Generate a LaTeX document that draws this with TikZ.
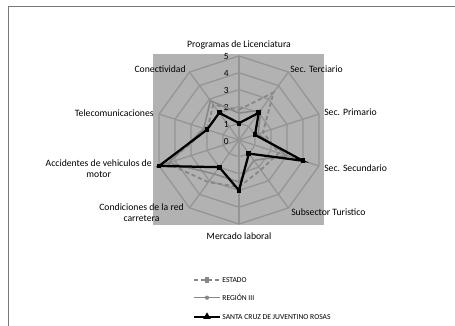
\documentclass[tikz,border=0pt]{standalone}
\usepackage{fontspec}
\setmainfont{Carlito}
\usetikzlibrary{positioning,plotmarks}
\definecolor{plotbg}{RGB}{178,178,178}
\definecolor{gridgray}{RGB}{148,148,148}
\definecolor{seriesgray}{RGB}{135,135,135}
\definecolor{framegray}{RGB}{120,120,120}

\begin{document}
\begin{tikzpicture}[x=0.025cm, y=0.025cm,
    gridline/.style={draw=gridgray, line width=0.9pt},
    catlabel/.style={font=\fontsize{6.9}{7.8}\selectfont, inner sep=0pt, align=center},
    axisnum/.style={font=\fontsize{6.7}{7}\selectfont, inner sep=0pt, anchor=east},
    estado/.style={draw=seriesgray, line width=1.3pt, dash pattern=on 3pt off 2pt},
    region/.style={draw=seriesgray, line width=1.1pt},
    santacruz/.style={draw=black, line width=1.6pt},
    legendtext/.style={font=\fontsize{5.4}{6}\selectfont, inner sep=0pt, anchor=west}
]
\useasboundingbox (0,0) rectangle (455,326);
\draw[framegray, line width=0.5pt] (8,-10) -- (8,320) -- (465,320);

% plot area
\fill[plotbg] (152.5,101) rectangle (324,272);

\begin{scope}[shift={(239,186)}, x=0.42cm, y=0.42cm]
% rings and spokes
\foreach \r in {1,...,5}
    \draw[gridline] (90:\r) \foreach \a in {54,18,...,-234} { -- (\a:\r) } -- cycle;
\foreach \a [count=\i] in {90,54,...,-234}
    \draw[gridline] (0,0) -- (\a:5) coordinate (ax\i);
\foreach \k in {0,...,5}
    \node[axisnum] (num\k) at (-0.6,\k-0.06) {\k};

% series
\draw[estado] (90:1.8) -- (54:3.5) -- (18:1.5) -- (-18:2.5) -- (-54:2.2) -- (-90:2.8)
    -- (-126:3.1) -- (-162:4.5) -- (162:2.0) -- (126:2.6) -- cycle;
\draw[region] (90:1.6) -- (54:2.2) -- (18:1.2) -- (-18:3.0) -- (-54:1.5) -- (-90:2.5)
    -- (-126:2.5) -- (-162:4.4) -- (162:2.2) -- (126:2.9) -- cycle;
\draw[santacruz] plot[mark=square*, mark size=0.9pt] coordinates {(90:1) (54:2) (18:1)
    (-18:4) (-54:1) (-90:3) (-126:2) (-162:5) (162:2) (126:2) (90:1)};
\end{scope}

% category labels
\node[catlabel] (prog) at (239,281) {Programas de Licenciatura};
\node[catlabel, anchor=west] (terc) at (290,256.7) {Sec. Terciario};
\node[catlabel, anchor=west] (prim) at (324,213.3) {Sec. Primario};
\node[catlabel, anchor=west] (secu) at (324,158.3) {Sec. Secundario};
\node[catlabel, anchor=west] (turi) at (291,113.7) {Subsector Turistico};
\node[catlabel] (merc) at (239,90.3) {Mercado laboral};
\node[catlabel] (cond) at (141.5,113) {Condiciones de la red\\carretera};
\node[catlabel] (acci) at (98.7,157.5) {Accidentes de vehiculos de\\motor};
\node[catlabel, anchor=east] (tele) at (154,213.3) {Telecomunicaciones};
\node[catlabel, anchor=east] (cone) at (186,256.7) {Conectividad};

% legend
\coordinate (ls1) at (194,45.7);  \coordinate (le1) at (220,45.7);
\coordinate (ls2) at (194,28.3);  \coordinate (le2) at (220,28.3);
\coordinate (ls3) at (194,9.3);   \coordinate (le3) at (220,9.3);
\draw[estado] (ls1) -- (le1) node[midway, solid, fill=seriesgray, minimum width=2.5pt, minimum height=4pt, inner sep=0pt] {};
\draw[region] (ls2) -- (le2) node[midway, fill=seriesgray, circle, minimum size=3pt, inner sep=0pt] {};
\draw[santacruz] plot[mark=triangle*, mark size=1.5pt, mark indices={2}] coordinates {(ls3) (207,9.3) (le3)};
\node[legendtext, right=1.5pt of le1] (lgest) {ESTADO};
\node[legendtext, right=1.5pt of le2] (lgreg) {REGIÓN III};
\node[legendtext, right=1.5pt of le3] (lgsc) {SANTA CRUZ DE JUVENTINO ROSAS};
\end{tikzpicture}
\end{document}
